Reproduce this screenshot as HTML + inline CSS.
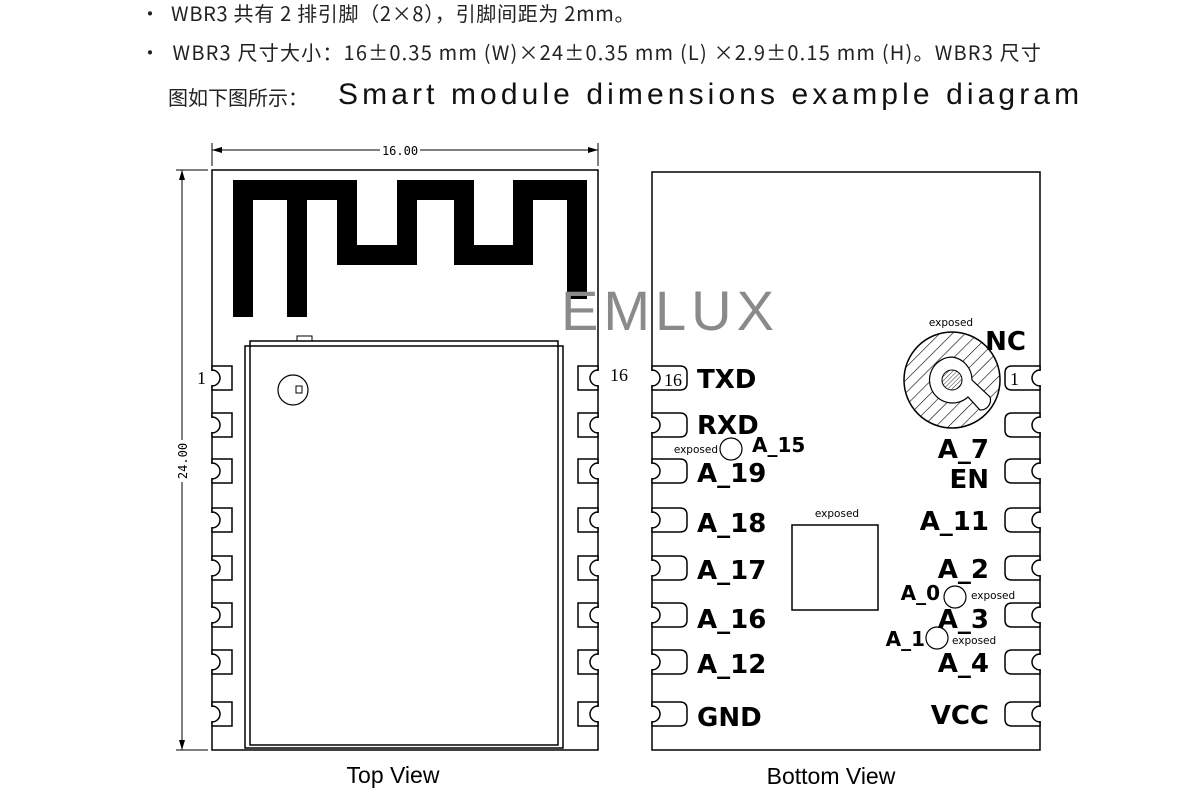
<!DOCTYPE html>
<html><head><meta charset="utf-8"><style>
html,body{margin:0;padding:0;background:#fff;}
body{width:1200px;height:800px;overflow:hidden;position:relative;font-family:"Noto Sans CJK SC","Liberation Sans",sans-serif;}
.t{position:absolute;color:#222;white-space:nowrap;}
</style></head><body>
<div class="t" style="left:140px;top:-2px;font-size:20px;letter-spacing:0.7px;">·&nbsp; WBR3 共有 2 排引脚（2×8），引脚间距为 2mm。</div>
<div class="t" style="left:140px;top:37px;font-size:20px;letter-spacing:1.2px;">·&nbsp; WBR3 尺寸大小：16±0.35 mm (W)×24±0.35 mm (L) ×2.9±0.15 mm (H)。WBR3 尺寸</div>
<div class="t" style="left:168px;top:82px;font-size:20px;">图如下图所示：</div>
<div class="t" style="left:338px;top:78px;font-size:30px;letter-spacing:4.1px;color:#111;font-family:'Liberation Sans',sans-serif;">Smart module dimensions example diagram</div>
<svg width="1200" height="800" style="position:absolute;left:0;top:0" xmlns="http://www.w3.org/2000/svg">
<defs>
<g id="pt"><path d="M0,-12 H20 V12 H0 V8 A8,8 0 0 0 0,-8 Z" fill="#fff" stroke="#000" stroke-width="1.5"/><rect x="-1.5" y="-7" width="3" height="14" fill="#fff"/></g>
<g id="pb"><path d="M0,-12 H28 Q35,-12 35,-5 V5 Q35,12 28,12 H0 V8 A8,8 0 0 0 0,-8 Z" fill="#fff" stroke="#000" stroke-width="1.5"/><rect x="-1.5" y="-7" width="3" height="14" fill="#fff"/></g>
<pattern id="h" width="9" height="9" patternUnits="userSpaceOnUse" patternTransform="rotate(45)"><rect width="9" height="9" fill="#fff"/><line x1="0" y1="0" x2="0" y2="9" stroke="#000" stroke-width="1.2"/></pattern>
<pattern id="h2" width="3" height="3" patternUnits="userSpaceOnUse" patternTransform="rotate(45)"><rect width="3" height="3" fill="#fff"/><line x1="0" y1="0" x2="0" y2="3" stroke="#000" stroke-width="0.8"/></pattern>
</defs>
<g fill="none" stroke="#000" stroke-width="1.5">
<rect x="212" y="170" width="386" height="580"/>
<line x1="212" y1="143" x2="212" y2="166" stroke-width="1"/>
<line x1="598" y1="143" x2="598" y2="166" stroke-width="1"/>
<line x1="212" y1="150" x2="380" y2="150" stroke-width="1"/>
<line x1="420" y1="150" x2="598" y2="150" stroke-width="1"/>
<line x1="176" y1="170" x2="208" y2="170" stroke-width="1"/>
<line x1="176" y1="750" x2="208" y2="750" stroke-width="1"/>
<line x1="182" y1="170" x2="182" y2="440" stroke-width="1"/>
<line x1="182" y1="482" x2="182" y2="750" stroke-width="1"/>
<polyline points="243,317 243,190 347,190 347,255 407,255 407,190 464,190 464,255 523,255 523,190 577,190 577,299" stroke-width="20" stroke-linejoin="miter"/>
<line x1="297" y1="190" x2="297" y2="317" stroke-width="20"/>
<rect x="245" y="346" width="318" height="402"/>
<rect x="250" y="341" width="308" height="404"/>
<rect x="297" y="336" width="15" height="5" stroke-width="1"/>
<circle cx="293" cy="390" r="15" stroke-width="1.2"/>
<rect x="296" y="386" width="6" height="7" stroke-width="1"/>
<rect x="652" y="172" width="388" height="578"/>
<rect x="792" y="525" width="86" height="85"/>
<circle cx="731" cy="449" r="11" stroke-width="1.2"/>
<circle cx="955" cy="597" r="11" stroke-width="1.2"/>
<circle cx="937" cy="638" r="11" stroke-width="1.2"/>
</g>
<polygon points="212,150 222,147 222,153" fill="#000"/>
<polygon points="598,150 588,147 588,153" fill="#000"/>
<polygon points="182,170 179,180 185,180" fill="#000"/>
<polygon points="182,750 179,740 185,740" fill="#000"/>
<text x="400" y="155" font-family="DejaVu Sans Mono,monospace" font-size="12" text-anchor="middle">16.00</text>
<text x="0" y="0" font-family="DejaVu Sans Mono,monospace" font-size="12" text-anchor="middle" transform="translate(187,461) rotate(-90)">24.00</text>
<circle cx="952" cy="380" r="48" fill="url(#h)" stroke="#000" stroke-width="1.5"/>
<path d="M952,357 A23,23 0 1 0 968,397 L980,410 A10,10 0 0 0 990,397 L972,380 A23,23 0 0 0 952,357 Z" fill="#fff" stroke="#000" stroke-width="1.2"/>
<circle cx="952" cy="380" r="10" fill="url(#h2)" stroke="#000" stroke-width="1"/>
<g>
<use href="#pt" x="212" y="378"/><use href="#pt" x="212" y="425"/><use href="#pt" x="212" y="471"/><use href="#pt" x="212" y="520"/>
<use href="#pt" x="212" y="568"/><use href="#pt" x="212" y="615"/><use href="#pt" x="212" y="662"/><use href="#pt" x="212" y="714"/>
<g transform="translate(810,0) scale(-1,1)">
<use href="#pt" x="212" y="378"/><use href="#pt" x="212" y="425"/><use href="#pt" x="212" y="471"/><use href="#pt" x="212" y="520"/>
<use href="#pt" x="212" y="568"/><use href="#pt" x="212" y="615"/><use href="#pt" x="212" y="662"/><use href="#pt" x="212" y="714"/>
</g>
<use href="#pb" x="652" y="378"/><use href="#pb" x="652" y="425"/><use href="#pb" x="652" y="471"/><use href="#pb" x="652" y="520"/>
<use href="#pb" x="652" y="568"/><use href="#pb" x="652" y="615"/><use href="#pb" x="652" y="662"/><use href="#pb" x="652" y="714"/>
<g transform="translate(1692,0) scale(-1,1)">
<use href="#pb" x="652" y="378"/><use href="#pb" x="652" y="425"/><use href="#pb" x="652" y="471"/><use href="#pb" x="652" y="520"/>
<use href="#pb" x="652" y="568"/><use href="#pb" x="652" y="615"/><use href="#pb" x="652" y="662"/><use href="#pb" x="652" y="714"/>
</g>
</g>
<g font-family="Liberation Serif,serif" font-size="18">
<text x="197" y="384">1</text><text x="610" y="381">16</text>
<text x="664" y="386">16</text><text x="1010" y="385">1</text>
</g>
<text x="670" y="330" font-family="Liberation Sans,sans-serif" font-size="56" fill="#8a8a8a" letter-spacing="5" text-anchor="middle">EMLUX</text>
<g font-family="DejaVu Sans,sans-serif" font-weight="bold" font-size="26" fill="#000">
<text x="697" y="388">TXD</text><text x="697" y="434">RXD</text>
<text x="697" y="482">A_19</text><text x="697" y="532">A_18</text><text x="697" y="579">A_17</text>
<text x="697" y="628">A_16</text><text x="697" y="673">A_12</text><text x="697" y="726">GND</text>
<g text-anchor="end">
<text x="1026" y="350">NC</text><text x="989" y="458">A_7</text><text x="989" y="488">EN</text>
<text x="989" y="530">A_11</text><text x="989" y="578">A_2</text><text x="989" y="628">A_3</text>
<text x="989" y="672">A_4</text><text x="989" y="724">VCC</text>
</g>
<text x="752" y="452" font-size="20">A_15</text>
<text x="940" y="600" font-size="20" text-anchor="end">A_0</text>
<text x="925" y="646" font-size="20" text-anchor="end">A_1</text>
</g>
<g font-family="DejaVu Sans,sans-serif" font-size="10.5" fill="#000">
<text x="951" y="326" text-anchor="middle">exposed</text>
<text x="718" y="453" text-anchor="end">exposed</text>
<text x="837" y="517" text-anchor="middle">exposed</text>
<text x="971" y="599">exposed</text>
<text x="952" y="644">exposed</text>
</g>
<g font-family="Liberation Sans,sans-serif" font-size="23" fill="#000" text-anchor="middle">
<text x="393" y="783">Top View</text><text x="831" y="784">Bottom View</text>
</g>
</svg>
</body></html>
